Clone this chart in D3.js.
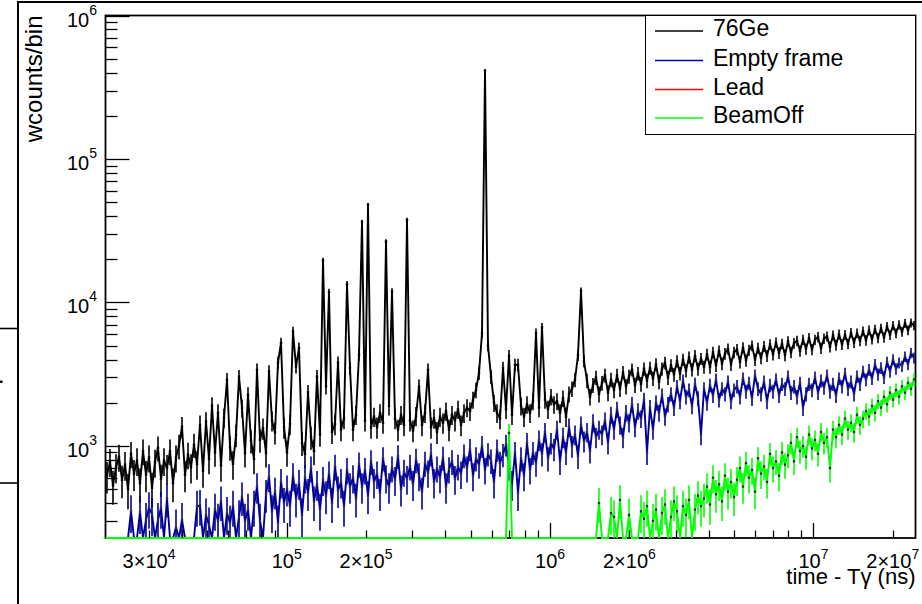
<!DOCTYPE html>
<html>
<head>
<meta charset="utf-8">
<script src="https://cdn.jsdelivr.net/npm/d3@7"></script>
<style>
  html, body { margin: 0; padding: 0; background: #fff; }
  svg { display: block; font-family: "Liberation Sans", Arial, Helvetica, sans-serif; }
</style>
</head>
<body>
<svg id="chart" width="922" height="604"></svg>
<script>
// Histogram binning: log-spaced bins over the time axis (ns)
const binLow = 20500;
const binHigh = 2.44e7;
const nBins = 270;

// Weighted counts per bin, 76Ge target
const geData = [
  620, 780, 530, 710, 840, 580, 740, 500, 880, 640,
  790, 550, 920, 630, 830, 510, 770, 970, 590, 790,
  700, 920, 550, 830, 1000, 1360, 630, 870, 710, 1020,
  750, 1400, 670, 1480, 810, 1910, 900, 1700, 730, 1570,
  2890, 980, 750, 1190, 3040, 1840, 890, 2270, 1090, 810,
  3390, 1100, 1330, 890, 3300, 1500, 1240, 3810, 5230, 1350,
  900, 1420, 6270, 3570, 4820, 1050, 880, 2360, 1150, 920,
  3040, 1200, 19600, 2600, 11800, 1250, 1420, 3810, 1300, 1550,
  13400, 3490, 1300, 1650, 4310, 36500, 1500, 47900, 1350, 1600,
  1350, 1700, 1450, 26600, 1900, 11900, 1550, 1300, 1650, 1400,
  37700, 1500, 1280, 1620, 2590, 1400, 1700, 3390, 1350, 1560,
  1250, 1600, 1450, 1750, 1300, 1650, 1500, 1800, 1400, 1700,
  1850, 1750, 2100, 2450, 3230, 6100, 414000, 5000, 3040, 2000,
  1700, 1550, 3490, 1800, 4250, 1650, 3670, 3670, 1900, 1600,
  1950, 1700, 2050, 6110, 1850, 6680, 2100, 1800, 2200, 1950,
  2050, 1700, 2150, 1600, 2300, 2500, 2900, 4300, 12050, 3900,
  2850, 2200, 2650, 3000, 2300, 2750, 3100, 2350, 2900, 2450,
  3100, 2500, 3250, 2600, 3050, 3400, 2650, 3200, 2700, 3450,
  2850, 3500, 2950, 3700, 2800, 3450, 3800, 3000, 3650, 3150,
  3900, 3200, 4000, 3350, 4150, 3400, 4250, 3450, 4050, 3550,
  4350, 3550, 4500, 3650, 4600, 3750, 4400, 4750, 3700, 4500,
  4700, 3850, 4850, 3950, 4650, 5000, 4000, 4800, 4100, 4950,
  4250, 5100, 4350, 5250, 4450, 5150, 4300, 5350, 4500, 5200,
  5400, 4600, 5500, 4750, 5650, 4700, 5500, 5750, 4800, 5600,
  5800, 4900, 5900, 5050, 6000, 5100, 5950, 5150, 6150, 5250,
  6100, 5400, 6300, 5450, 6400, 5550, 6500, 5650, 6600, 5700,
  6800, 5950, 6900, 6100, 7000, 6250, 7150, 6400, 7200, 6900
];

// Weighted counts per bin, empty target frame
const emptyFrameData = [
  0, 0, 0, 0, 0, 0, 0, 0, 350, 0,
  0, 345, 0, 305, 370, 335, 0, 305, 370, 0,
  430, 0, 0, 270, 0, 305, 0, 0, 0, 0,
  380, 385, 0, 330, 280, 0, 360, 300, 410, 0,
  340, 290, 380, 0, 320, 440, 300, 360, 0, 380,
  520, 300, 0, 460, 610, 350, 480, 290, 560, 400,
  500, 380, 620, 430, 550, 330, 600, 470, 700, 410,
  540, 360, 580, 450, 640, 400, 720, 490, 560, 380,
  680, 520, 600, 430, 750, 520, 680, 450, 780, 560,
  640, 470, 820, 600, 520, 700, 580, 850, 500, 660,
  590, 720, 540, 800, 620, 480, 760, 650, 880, 560,
  700, 600, 830, 520, 690, 780, 590, 720, 640, 860,
  700, 950, 620, 820, 740, 1000, 680, 880, 790, 560,
  940, 760, 870, 1020, 720, 540, 900, 470, 820, 620,
  1050, 680, 900, 760, 1100, 880, 1250, 820, 1050, 950,
  1300, 780, 1150, 900, 1350, 1000, 1200, 850, 1400, 1080,
  1250, 920, 1450, 1150, 1300, 1200, 1500, 1050, 1650, 1300,
  1800, 1400, 1150, 1700, 1450, 1950, 1350, 1750, 1550, 2100,
  900, 1850, 1300, 2000, 1700, 2250, 1600, 1950, 2300, 1850,
  2600, 2050, 2850, 2200, 2450, 1900, 2700, 2150, 1200, 2500,
  2000, 2650, 2250, 2900, 2100, 2500, 2300, 2800, 2050, 2450,
  2600, 2200, 2950, 2400, 2750, 2150, 3100, 2500, 2300, 2800,
  2050, 2650, 2400, 2900, 2250, 2700, 2500, 3050, 2350, 2600,
  2200, 2750, 1850, 2300, 2700, 2450, 3000, 2350, 2850, 2550,
  3100, 2400, 2700, 2250, 2950, 2600, 3200, 2500, 2800, 2300,
  3050, 2700, 3300, 2900, 3400, 2950, 3700, 3150, 3500, 3000,
  3850, 3300, 4000, 3450, 3800, 3600, 4200, 3700, 4450, 4100
];

// Weighted counts per bin, lead target (no entries)
const leadData = [
  0, 0, 0, 0, 0, 0, 0, 0, 0, 0, 0, 0, 0, 0, 0, 0, 0, 0, 0, 0, 0, 0, 0, 0, 0, 0, 0, 0, 0, 0,
  0, 0, 0, 0, 0, 0, 0, 0, 0, 0, 0, 0, 0, 0, 0, 0, 0, 0, 0, 0, 0, 0, 0, 0, 0, 0, 0, 0, 0, 0,
  0, 0, 0, 0, 0, 0, 0, 0, 0, 0, 0, 0, 0, 0, 0, 0, 0, 0, 0, 0, 0, 0, 0, 0, 0, 0, 0, 0, 0, 0,
  0, 0, 0, 0, 0, 0, 0, 0, 0, 0, 0, 0, 0, 0, 0, 0, 0, 0, 0, 0, 0, 0, 0, 0, 0, 0, 0, 0, 0, 0,
  0, 0, 0, 0, 0, 0, 0, 0, 0, 0, 0, 0, 0, 0, 0, 0, 0, 0, 0, 0, 0, 0, 0, 0, 0, 0, 0, 0, 0, 0,
  0, 0, 0, 0, 0, 0, 0, 0, 0, 0, 0, 0, 0, 0, 0, 0, 0, 0, 0, 0, 0, 0, 0, 0, 0, 0, 0, 0, 0, 0,
  0, 0, 0, 0, 0, 0, 0, 0, 0, 0, 0, 0, 0, 0, 0, 0, 0, 0, 0, 0, 0, 0, 0, 0, 0, 0, 0, 0, 0, 0,
  0, 0, 0, 0, 0, 0, 0, 0, 0, 0, 0, 0, 0, 0, 0, 0, 0, 0, 0, 0, 0, 0, 0, 0, 0, 0, 0, 0, 0, 0,
  0, 0, 0, 0, 0, 0, 0, 0, 0, 0, 0, 0, 0, 0, 0, 0, 0, 0, 0, 0, 0, 0, 0, 0, 0, 0, 0, 0, 0, 0
];

// Weighted counts per bin, beam off
const beamOffData = [
  0, 0, 0, 0, 0, 0, 0, 0, 0, 0, 0, 0, 0, 0, 0, 0, 0, 0, 0, 0, 0, 0, 0, 0, 0, 0, 0, 0, 0, 0,
  0, 0, 0, 0, 0, 0, 0, 0, 0, 0, 0, 0, 0, 0, 0, 0, 0, 0, 0, 0, 0, 0, 0, 0, 0, 0, 0, 0, 0, 0,
  0, 0, 0, 0, 0, 0, 0, 0, 0, 0, 0, 0, 0, 0, 0, 0, 0, 0, 0, 0, 0, 0, 0, 0, 0, 0, 0, 0, 0, 0,
  0, 0, 0, 0, 0, 0, 0, 0, 0, 0, 0, 0, 0, 0, 0, 0, 0, 0, 0, 0, 0, 0, 0, 0, 0, 0, 0, 0, 0, 0,
  0, 0, 0, 0, 0, 0, 0, 0, 0, 0,
  0, 0, 0, 0, 1230, 0, 0, 0, 0, 0,
  0, 0, 0, 0, 0, 0, 0, 0, 0, 0,
  0, 0, 0, 0, 0, 0, 0, 0, 0, 0,
  0, 0, 0, 0, 400, 0, 0, 0, 340, 320,
  0, 420, 0, 0, 330, 0, 0, 0, 350, 310,
  380, 0, 300, 360, 0, 340, 390, 0, 320, 410,
  350, 0, 380, 330, 420, 0, 360, 450, 380, 430,
  520, 390, 600, 460, 540, 410, 620, 480, 560, 440,
  580, 700, 520, 760, 600, 680, 480, 820, 640, 720,
  560, 880, 700, 780, 620, 900, 740, 860, 1050, 780,
  1150, 920, 1000, 840, 1200, 960, 1100, 880, 1250, 1050,
  1150, 700, 1300, 1150, 1400, 1200, 1550, 1300, 1450, 1250,
  1650, 1400, 1550, 1750, 1600, 1900, 1700, 2050, 1850, 2200,
  1950, 2350, 2100, 2450, 2200, 2600, 2350, 2750, 2500, 2900
];

// Mean event weight of each sample; the bin error is sqrt(weight x content)
const eventWeights = [38, 30, 30, 30];

const seriesNames = ["76Ge", "Empty frame", "Lead", "BeamOff"];
const seriesColors = ["#000000", "#000099", "#ff0000", "#00ff00"];
const seriesValues = [geData, emptyFrameData, leadData, beamOffData];

const xLabelTicks = [3e4, 1e5, 2e5, 1e6, 2e6, 1e7, 2e7];
const yDomain = [228, 1e6];
const xTitle = "time - Tγ (ns)";
const yTitle = "wcounts/bin";

// ---- layout ----
const plot = { left: 105.5, right: 915.5, top: 15.5, bottom: 538 };
const svg = d3.select("#chart");

const x = d3.scaleLog().domain([binLow, binHigh]).range([plot.left, plot.right]);
const y = d3.scaleLog().domain(yDomain).range([plot.bottom, plot.top]);

const edges = d3.range(nBins + 1).map(i => binLow * Math.pow(binHigh / binLow, i / nBins));
const centers = d3.range(nBins).map(i => Math.sqrt(edges[i] * edges[i + 1]));

// canvas border pieces
const chrome = svg.append("g").attr("stroke", "#000").attr("fill", "none");
chrome.append("line").attr("x1", 17).attr("x2", 922).attr("y1", 2).attr("y2", 2).attr("stroke-width", 2.2);
chrome.append("line").attr("x1", 18).attr("x2", 18).attr("y1", 1).attr("y2", 604).attr("stroke-width", 2);
chrome.append("line").attr("x1", 0).attr("x2", 18).attr("y1", 328.5).attr("y2", 328.5).attr("stroke-width", 1.6);
chrome.append("line").attr("x1", 0).attr("x2", 18).attr("y1", 483).attr("y2", 483).attr("stroke-width", 1.6);
svg.append("rect").attr("x", 0).attr("y", 380.5).attr("width", 2.5).attr("height", 2.5).attr("fill", "#000");

// frame
svg.append("rect")
  .attr("x", plot.left).attr("y", plot.top)
  .attr("width", plot.right - plot.left).attr("height", plot.bottom - plot.top)
  .attr("fill", "none").attr("stroke", "#000").attr("stroke-width", 1.8);

// histograms (bin contents joined at bin centres; empty bins sit on the axis floor)
svg.append("clipPath").attr("id", "plotClip")
  .append("rect")
  .attr("x", plot.left).attr("y", plot.top - 1)
  .attr("width", plot.right - plot.left).attr("height", plot.bottom - plot.top + 2);

const yClamp = v => y(Math.max(v, yDomain[0]));
const histLine = d3.line()
  .x(d => x(d[0]))
  .y(d => yClamp(d[1]))
  .curve(d3.curveLinear);

const histG = svg.append("g").attr("clip-path", "url(#plotClip)");
seriesValues.forEach((vals, k) => {
  if (d3.sum(vals) <= 0) return; // a histogram without entries draws nothing
  const g = histG.append("g");
  const pts = vals.map((v, i) => [centers[i], v]);
  pts.unshift([edges[0], vals[0]]);
  pts.push([edges[nBins], vals[nBins - 1]]);
  g.append("path")
    .attr("d", histLine(pts))
    .attr("fill", "none")
    .attr("stroke", seriesColors[k])
    .attr("stroke-width", 1.9)
    .attr("stroke-linejoin", "miter")
    .attr("stroke-miterlimit", 2);

  // statistical error bars with a small marker at the bin content
  const bars = vals.map((v, i) => ({ c: centers[i], v, e: Math.sqrt(eventWeights[k] * v) }))
    .filter(d => d.v > 0);
  g.selectAll("line.err").data(bars).join("line")
    .attr("class", "err")
    .attr("x1", d => x(d.c)).attr("x2", d => x(d.c))
    .attr("y1", d => yClamp(d.v + d.e))
    .attr("y2", d => yClamp(Math.max(d.v - d.e, 1)))
    .attr("stroke", seriesColors[k])
    .attr("stroke-width", 1.6);
  g.selectAll("rect.mk").data(bars).join("rect")
    .attr("class", "mk")
    .attr("x", d => x(d.c) - 1.2).attr("y", d => yClamp(d.v) - 1.2)
    .attr("width", 2.4).attr("height", 2.4)
    .attr("fill", k === 0 ? "#000" : "#333");
});

// ticks
const isDecade = v => Math.abs(Math.log10(v) - Math.round(Math.log10(v))) < 1e-9;
const tickG = svg.append("g").attr("stroke", "#000").attr("stroke-width", 1.3);

y.ticks().filter(t => t >= yDomain[0] && t <= yDomain[1]).forEach(t => {
  const yy = Math.round(y(t)) + 0.5;
  tickG.append("line")
    .attr("x1", plot.left).attr("x2", plot.left + (isDecade(t) ? 24 : 12))
    .attr("y1", yy).attr("y2", yy);
});
x.ticks().filter(t => t >= binLow && t <= binHigh).forEach(t => {
  const xx = Math.round(x(t)) + 0.5;
  tickG.append("line")
    .attr("x1", xx).attr("x2", xx)
    .attr("y1", plot.bottom).attr("y2", plot.bottom - (isDecade(t) ? 15 : 7.5));
});

// power-of-ten labels
function splitPow(v) {
  const e = Math.floor(Math.log10(v) + 1e-9);
  const m = Math.round(v / Math.pow(10, e));
  return { base: m === 1 ? "10" : m + "×10", exp: String(e) };
}
function powLabel(g, v, px, py, anchor, supShift) {
  const p = splitPow(v);
  const t = g.append("text")
    .attr("x", px).attr("y", py)
    .attr("text-anchor", anchor)
    .attr("font-size", 20)
    .attr("fill", "#000");
  t.append("tspan").text(p.base);
  t.append("tspan").attr("font-size", 14).attr("dy", -supShift).text(p.exp);
}

const labelG = svg.append("g");
xLabelTicks.forEach(v => powLabel(labelG, v, x(v), 568, "middle", 9));
y.ticks().filter(t => isDecade(t) && t >= yDomain[0]).forEach(v => powLabel(labelG, v, 97, y(v) + 11, "end", 12));

// axis titles
svg.append("text")
  .attr("x", plot.right).attr("y", 584)
  .attr("text-anchor", "end")
  .attr("font-size", 22)
  .text(xTitle);

svg.append("text")
  .attr("transform", `translate(42,${plot.top}) rotate(-90)`)
  .attr("text-anchor", "end")
  .attr("font-size", 24)
  .text(yTitle);

// legend
const leg = svg.append("g");
leg.append("rect")
  .attr("x", 645.5).attr("y", plot.top)
  .attr("width", plot.right - 645.5).attr("height", 119)
  .attr("fill", "#fff").attr("stroke", "#000").attr("stroke-width", 1);
const rowBase = [36, 65.5, 94.5, 123];
seriesNames.forEach((name, k) => {
  leg.append("line")
    .attr("x1", 655).attr("x2", 703)
    .attr("y1", rowBase[k] - 5).attr("y2", rowBase[k] - 5)
    .attr("stroke", seriesColors[k]).attr("stroke-width", 1.5);
  leg.append("text")
    .attr("x", 713).attr("y", rowBase[k])
    .attr("font-size", 23)
    .text(name);
});
</script>
</body>
</html>
